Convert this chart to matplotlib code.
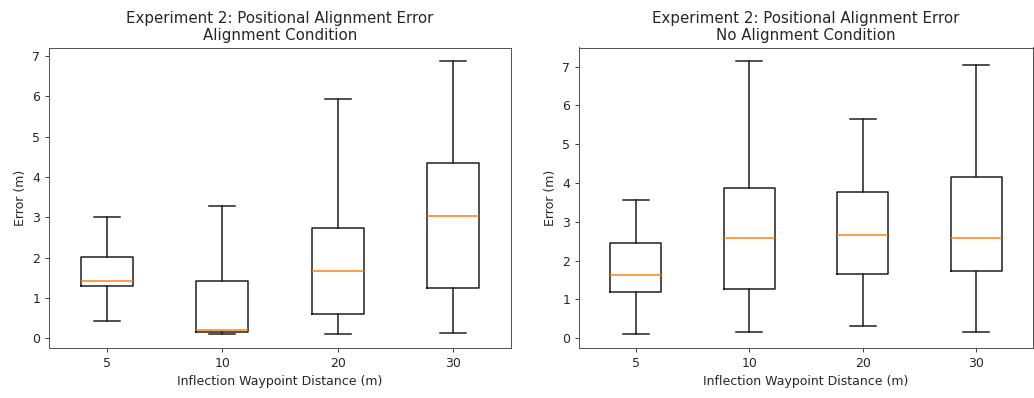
import matplotlib
matplotlib.use('Agg')
import matplotlib.pyplot as plt

distances = ['5', '10', '20', '30']

# Alignment condition: whisker low, Q1, median, Q3, whisker high
align_low = [0.44, 0.10, 0.10, 0.13]
align_q1 = [1.29, 0.16, 0.61, 1.26]
align_med = [1.43, 0.21, 1.67, 3.03]
align_q3 = [2.01, 1.43, 2.73, 4.34]
align_high = [3.00, 3.28, 5.94, 6.87]

# No alignment condition
noalign_low = [0.10, 0.17, 0.32, 0.17]
noalign_q1 = [1.20, 1.28, 1.66, 1.74]
noalign_med = [1.63, 2.59, 2.66, 2.59]
noalign_q3 = [2.45, 3.87, 3.76, 4.16]
noalign_high = [3.55, 7.14, 5.64, 7.04]


def make_stats(low, q1, med, q3, high):
    return [dict(whislo=a, q1=b, med=c, q3=d, whishi=e, fliers=[], label=l)
            for a, b, c, d, e, l in zip(low, q1, med, q3, high, distances)]


plt.rcParams['text.color'] = '#262626'
plt.rcParams['axes.labelcolor'] = '#262626'
plt.rcParams['xtick.color'] = '#404040'
plt.rcParams['ytick.color'] = '#404040'
plt.rcParams['xtick.labelcolor'] = '#262626'
plt.rcParams['ytick.labelcolor'] = '#262626'
plt.rcParams['axes.edgecolor'] = '#555555'

W, H = 1034, 398
DPI = 90
fig = plt.figure(figsize=(W / DPI, H / DPI), dpi=DPI)
ax1 = fig.add_axes([49 / W, (H - 348) / H, (511 - 49) / W, (348 - 47.5) / H])
ax2 = fig.add_axes([579 / W, (H - 348) / H, (1033 - 579) / W, (348 - 47.5) / H])

panels = [
    (ax1, make_stats(align_low, align_q1, align_med, align_q3, align_high),
     'Experiment 2: Positional Alignment Error\nAlignment Condition'),
    (ax2, make_stats(noalign_low, noalign_q1, noalign_med, noalign_q3, noalign_high),
     'Experiment 2: Positional Alignment Error\nNo Alignment Condition'),
]

line = dict(color='#1a1a1a', linewidth=1.2)
for ax, stats, title in panels:
    ax.bxp(stats, widths=0.45, showfliers=False,
           boxprops=line, whiskerprops=line, capprops=line,
           medianprops=dict(color='#ff7f0e', linewidth=1.2))
    ax.set_title(title, fontsize=12)
    ax.set_xlabel('Inflection Waypoint Distance (m)', fontsize=10)
    ax.set_ylabel('Error (m)', fontsize=10)
    ax.tick_params(labelsize=10)

fig.savefig('out.png', dpi=DPI)
